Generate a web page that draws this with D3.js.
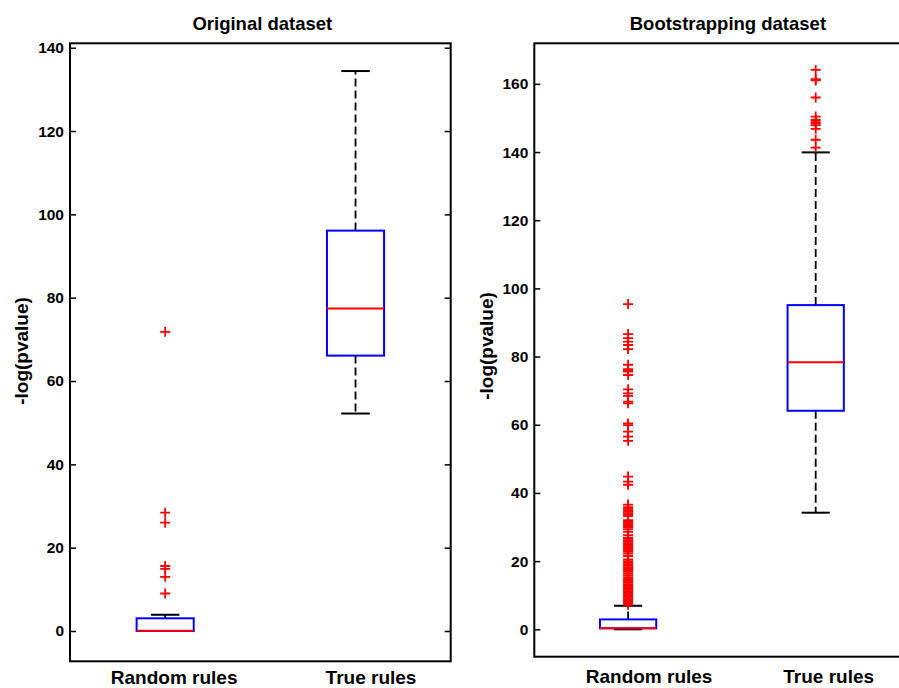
<!DOCTYPE html>
<html>
<head>
<meta charset="utf-8">
<script src="https://cdn.jsdelivr.net/npm/d3@7"></script>
<style>
  body { margin: 0; background: #fff; }
  svg text { font-family: "Liberation Sans", Arial, sans-serif; font-weight: bold; fill: #000; }
</style>
</head>
<body>
<svg width="899" height="688"></svg>
<script>
// 类别
const categories = ['Random rules', 'True rules'];

// 箱线统计量：[下须, Q1, 中位数, Q3, 上须]
const origRandomStats = [0, 0, 0.05, 3.05, 3.9];
const origTrueStats = [52.2, 66.1, 77.4, 96.1, 134.4];
const bootRandomStats = [0, 0.3, 0.3, 2.9, 6.9];
const bootTrueStats = [34.2, 64.1, 78.3, 95.1, 139.9];

// 离群点
const origRandomOutliers = [71.8, 28.4, 26.0, 15.6, 14.9, 13.0, 9.0];
const origTrueOutliers = [];
const bootRandomOutliers = [
    95.4, 86.6, 85.4, 84.4, 83.4, 82.2, 77.6, 76.3, 75.9, 75.6, 74.6,
    70.4, 69.2, 68.5, 66.8, 66.3, 60.4, 59.9, 58.0, 56.5, 55.3,
    44.8, 43.3, 42.4,
    36.6, 35.8, 35.3, 34.9, 34.5, 34.1, 33.6, 33.2, 32.0, 31.6, 31.2, 30.8,
    30.3, 29.8, 29.3, 28.6, 27.6, 26.9, 26.5, 26.1, 25.7, 25.3, 24.9, 24.5,
    24.1, 23.6, 23.2, 22.7, 22.2, 21.5, 20.5, 20.0, 19.6, 19.1, 18.7, 18.2,
    17.8, 17.4, 16.9, 16.4, 15.9, 15.3, 14.8, 14.4, 14.0, 13.6, 13.2, 12.8,
    12.4, 12.0, 11.6, 11.2, 10.8, 10.4, 10.0, 9.6, 9.2, 8.8, 8.4, 8.0, 7.6, 7.2
];
const bootTrueOutliers = [164.1, 161.4, 161.0, 156.0, 150.4, 149.4, 148.8, 148.4, 147.9, 146.8, 143.6, 141.3];

// 刻度
const origTicks = [0, 20, 40, 60, 80, 100, 120, 140];
const bootTicks = [0, 20, 40, 60, 80, 100, 120, 140, 160];

// 两个子图
let panels = [
    {
        title: 'Original dataset', titleDx: 2,
        left: 70, right: 450.7, top: 43.3, bottom: 661.3,
        yDomain: [-7.27, 141.06], ticks: origTicks,
        stats: [origRandomStats, origTrueStats],
        outliers: [origRandomOutliers, origTrueOutliers],
        labelDx: [9, 15.5], labelY: 684,
        yLabelX: 28, yLabelY: 351
    },
    {
        title: 'Bootstrapping dataset', titleDx: 6,
        left: 534.3, right: 909.5, top: 43.3, bottom: 656.7,
        yDomain: [-8.04, 171.9], ticks: bootTicks,
        stats: [bootRandomStats, bootTrueStats],
        outliers: [bootRandomOutliers, bootTrueOutliers],
        labelDx: [21, 13], labelY: 683,
        yLabelX: 493, yLabelY: 346
    }
];

let svg = d3.select('svg');

// 箱宽（x 轴单位）
let boxHalf = 0.15;
let capHalf = 0.075;
let plusArm = 5;

panels.forEach(p => {
    let x = d3.scaleLinear().domain([0.5, 2.5]).range([p.left, p.right]);
    let y = d3.scaleLinear().domain(p.yDomain).range([p.bottom, p.top]);
    let g = svg.append('g');

    // 左侧刻度
    let axL = g.append('g')
        .attr('transform', 'translate(' + p.left + ',0)')
        .call(d3.axisLeft(y).tickValues(p.ticks).tickSize(-6).tickPadding(6));
    axL.select('.domain').remove();
    axL.selectAll('line').attr('stroke', '#000').attr('stroke-width', 1.5);
    axL.selectAll('text').style('font-size', '15.5px').attr('font-family', null);

    // 右侧刻度
    let axR = g.append('g')
        .attr('transform', 'translate(' + p.right + ',0)')
        .call(d3.axisRight(y).tickValues(p.ticks).tickSize(-6).tickFormat(''));
    axR.select('.domain').remove();
    axR.selectAll('line').attr('stroke', '#000').attr('stroke-width', 1.5);

    // 边框
    g.append('rect')
        .attr('x', p.left).attr('y', p.top)
        .attr('width', p.right - p.left).attr('height', p.bottom - p.top)
        .attr('fill', 'none').attr('stroke', '#000').attr('stroke-width', 2);

    // 箱线
    p.stats.forEach((s, i) => {
        let cx = x(i + 1);
        let bg = g.append('g');
        // 须线
        bg.append('line')
            .attr('x1', cx).attr('x2', cx).attr('y1', y(s[3])).attr('y2', y(s[4]))
            .attr('stroke', '#000').attr('stroke-width', 1.8).attr('stroke-dasharray', '8,4');
        bg.append('line')
            .attr('x1', cx).attr('x2', cx).attr('y1', y(s[1])).attr('y2', y(s[0]))
            .attr('stroke', '#000').attr('stroke-width', 1.8).attr('stroke-dasharray', '8,4');
        // 须端
        [s[0], s[4]].forEach(v => {
            bg.append('line')
                .attr('x1', x(i + 1 - capHalf)).attr('x2', x(i + 1 + capHalf))
                .attr('y1', y(v)).attr('y2', y(v))
                .attr('stroke', '#000').attr('stroke-width', 2);
        });
        // 箱体
        bg.append('rect')
            .attr('x', x(i + 1 - boxHalf)).attr('y', y(s[3]))
            .attr('width', x(i + 1 + boxHalf) - x(i + 1 - boxHalf))
            .attr('height', y(s[1]) - y(s[3]))
            .attr('fill', 'none').attr('stroke', '#0000ff').attr('stroke-width', 2);
        // 中位数
        bg.append('line')
            .attr('x1', x(i + 1 - boxHalf)).attr('x2', x(i + 1 + boxHalf))
            .attr('y1', y(s[2])).attr('y2', y(s[2]))
            .attr('stroke', '#ff0000').attr('stroke-width', 2);
        // 离群点
        bg.selectAll('path.out')
            .data(p.outliers[i])
            .enter()
            .append('path')
            .attr('class', 'out')
            .attr('d', v => 'M' + (cx - plusArm) + ',' + y(v) + 'h' + (2 * plusArm) +
                'M' + cx + ',' + (y(v) - plusArm) + 'v' + (2 * plusArm))
            .attr('stroke', '#ff0000').attr('stroke-width', 1.8).attr('fill', 'none');

        // 类别标签
        g.append('text')
            .attr('x', cx + p.labelDx[i]).attr('y', p.labelY)
            .attr('text-anchor', 'middle')
            .style('font-size', '19px')
            .text(categories[i]);
    });

    // 标题
    g.append('text')
        .attr('x', (p.left + p.right) / 2 + p.titleDx).attr('y', 30)
        .attr('text-anchor', 'middle')
        .style('font-size', '18.5px')
        .text(p.title);

    // y 轴标题
    g.append('text')
        .attr('transform', 'translate(' + p.yLabelX + ',' + p.yLabelY + ') rotate(-90)')
        .attr('text-anchor', 'middle')
        .style('font-size', '19px')
        .text('-log(pvalue)');
});
</script>
</body>
</html>
